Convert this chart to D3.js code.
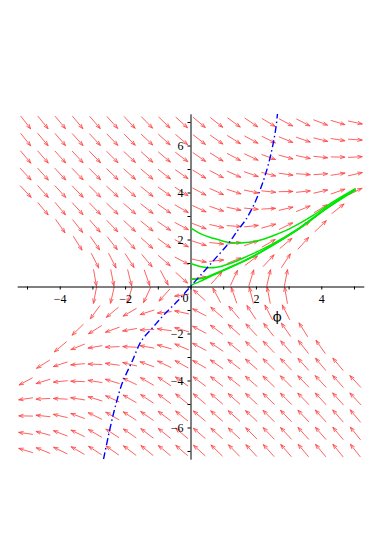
<!DOCTYPE html>
<html>
<head>
<meta charset="utf-8">
<script src="https://cdn.jsdelivr.net/npm/d3@7"></script>
<style>
  body { margin: 0; background: #fff; }
  svg { display: block; }
  .tick text { font-family: "Liberation Serif", "DejaVu Serif", serif; font-size: 12px; }
</style>
</head>
<body>
<svg id="chart"></svg>
<script>
// grid of arrow centres (phi across, phi' down the page)
let xGrid = [-5.04, -4.51, -3.98, -3.45, -2.92, -2.39, -1.86, -1.33, -0.80, -0.27,
             0.27, 0.80, 1.33, 1.86, 2.39, 2.92, 3.45, 3.98, 4.51, 5.04]
let yGrid = [6.98, 6.25, 5.51, 4.78, 4.04, 3.31, 2.57, 1.84, 1.10, 0.37,
             -0.37, -1.10, -1.84, -2.57, -3.31, -4.04, -4.78, -5.51, -6.25, -6.98]

// arrow direction on screen, degrees counter-clockwise; null = no arrow drawn
let arrowAngles = [
  [-52,-51,-50,-50,-49,-48,-47,-46,-44,-42,-40,-38,-36,-34,-31,-28,-27,-21,-17,-12],
  [-51,-50,-49,-48,-47,-46,-45,-43,-42,-40,-38,-35,-32,-29,-26,-22,-19,-14,-9,-4],
  [-50,-49,-48,-47,-46,-45,-43,-42,-40,-37,-35,-32,-28,-25,-20,-15,-12,-6,-1,3],
  [-47,-48,-47,-46,-45,-44,-42,-40,-38,-35,-32,-28,-24,-19,-14,-8,-4,4,9,13],
  [-47,-48,-47,-46,-45,-43,-41,-39,-36,-33,-28,-24,-18,-12,-6,1,6,13,19,26],
  [null,-50,-50,-48,-46,-44,-41,-38,-35,-30,-25,-19,-12,-5,3,13,22,31,38,null],
  [null,null,-55,-52,-49,-46,-43,-39,-34,-28,-21,-13,-4,6,16,26,35,44,null,null],
  [null,null,null,-58,-55,-52,-47,-42,-36,-28,-18,-6,7,19,30,40,48,null,null,null],
  [null,null,null,null,-63,-63,-57,-50,-41,-28,-12,6,22,37,47,57,null,null,null,null],
  [null,null,null,null,-80,-79,-76,-71,-62,-42,8,48,65,73,77,79,null,null,null,null],
  [null,null,null,null,-101,-103,-107,-115,-132,-172,138,118,109,104,101,100,null,null,null,null],
  [null,null,null,null,-126,-140,-150,-162,-174,168,152,139,130,123,117,117,null,null,null,null],
  [null,null,null,-136,-148,-160,-170,-178,172,164,152,144,138,133,128,125,122,null,null,null],
  [null,null,-140,-158,-170,-178,177,170,164,157,152,146,141,137,134,131,128,125,null,null],
  [null,-148,-162,-175,178,172,166,160,154,151,150,145,142,139,136,134,132,130,130,null],
  [-152,-163,-174,178,171,163,155,150,146,144,143,142,141,139,137,135,134,133,132,133],
  [-172,-177,177,171,163,156,150,146,143,141,140,139,138,137,136,135,134,133,132,133],
  [179,174,167,160,154,150,147,145,143,141,140,139,138,137,135,134,133,132,131,130],
  [172,165,159,154,150,147,145,143,141,140,139,138,137,135,134,133,132,131,130,129],
  [163,158,154,150,147,145,143,141,140,139,138,136,134,133,132,131,130,130,129,128]
]

// solution curves (green)
let solutionA = [[0,2.50],[0.35,2.22],[0.70,2.05],[1.0,1.93],[1.21,1.87],[1.62,1.86],[2.0,1.93],
                 [2.23,2.01],[2.6,2.2],[2.94,2.40],[3.35,2.7],[3.76,3.04],[4.37,3.61],[5.05,4.16]]
let solutionB = [[0,0.99],[0.29,0.85],[0.55,0.80],[0.8,0.82],[1.21,0.98],[1.72,1.28],[2.43,1.75],
                 [3.25,2.42],[4.17,3.36],[5.05,4.15]]
let solutionC = [[0,0.31],[0.15,0.31],[0.4,0.36],[0.7,0.52],[1.2,0.82],[1.72,1.15],[2.53,1.78],
                 [3.35,2.5],[4.17,3.33],[5.05,4.12]]
let solutionD = [[0,0.05],[0.3,0.22],[0.7,0.49],[1.2,0.8],[1.72,1.13],[2.53,1.76],[3.35,2.48],
                 [4.17,3.32],[5.05,4.11]]

// dash-dot curve (blue)
let blueCurve = [[-2.66,-7.35],[-2.45,-5.97],[-2.3,-5.11],[-2.09,-4.12],[-1.79,-3.2],[-1.5,-2.31],
                 [-1.15,-1.74],[-0.79,-1.17],[-0.38,-0.6],[0,0],[0.43,0.67],[0.79,1.24],[1.15,1.81],
                 [1.45,2.4],[1.69,2.84],[1.94,3.48],[2.15,4.19],[2.35,5.04],[2.5,5.89],[2.61,6.74],[2.66,7.35]]

let xTicks = [-5,-4,-3,-2,-1,0,1,2,3,4,5]
let xLabels = [-4,-2,2,4]
let yTicks = [-7,-6,-5,-4,-3,-2,-1,0,1,2,3,4,5,6,7]
let yLabels = [-6,-4,-2,2,4,6]

let width = 382
let height = 540

let svg = d3.select('#chart')
svg.attr('width', width).attr('height', height)

let xScale = d3.scaleLinear().domain([-5.3, 5.3]).range([17.2, 363.8])
let yScale = d3.scaleLinear().domain([-7.35, 7.35]).range([459.2, 113.8])

svg.append('clipPath').attr('id', 'plotClip')
   .append('rect')
   .attr('x', xScale(-5.3)).attr('y', yScale(7.35))
   .attr('width', xScale(5.3) - xScale(-5.3))
   .attr('height', yScale(-7.35) - yScale(7.35))

// direction field
let arrows = []
arrowAngles.forEach((row, j) => {
  row.forEach((a, i) => {
    if (a !== null) arrows.push({x: xGrid[i], y: yGrid[j], a: a})
  })
})

let arrowPath = (d) => {
  let r = d.a * Math.PI / 180
  let ux = Math.cos(r), uy = -Math.sin(r)
  let len = 13.5 + 3 * Math.abs(Math.sin(r))
  let cx = xScale(d.x), cy = yScale(d.y)
  let x0 = cx - ux * len / 2, y0 = cy - uy * len / 2
  let x1 = cx + ux * len / 2, y1 = cy + uy * len / 2
  let hl = 4.5, ha = 20 * Math.PI / 180
  let bx = -ux, by = -uy
  let b1x = x1 + hl * (bx * Math.cos(ha) - by * Math.sin(ha))
  let b1y = y1 + hl * (bx * Math.sin(ha) + by * Math.cos(ha))
  let b2x = x1 + hl * (bx * Math.cos(-ha) - by * Math.sin(-ha))
  let b2y = y1 + hl * (bx * Math.sin(-ha) + by * Math.cos(-ha))
  return 'M' + x0 + ',' + y0 + 'L' + x1 + ',' + y1 +
         'M' + b1x + ',' + b1y + 'L' + x1 + ',' + y1 + 'L' + b2x + ',' + b2y
}

svg.append('g')
   .selectAll('path')
   .data(arrows)
   .enter()
   .append('path')
   .attr('d', arrowPath)
   .attr('fill', 'none')
   .attr('stroke', '#ff4444')
   .attr('stroke-width', 0.85)
   .attr('stroke-linecap', 'round')

// axes
let xAxis = d3.axisBottom(xScale)
              .tickValues(xTicks)
              .tickSize(3)
              .tickSizeOuter(0)
              .tickPadding(5)
              .tickFormat((d) => xLabels.includes(d) ? d3.format('d')(d) : '')
let yAxis = d3.axisLeft(yScale)
              .tickValues(yTicks)
              .tickSize(3)
              .tickSizeOuter(0)
              .tickPadding(4)
              .tickFormat((d) => yLabels.includes(d) ? d3.format('d')(d) : '')

svg.append('g')
   .attr('transform', 'translate(0,' + yScale(0) + ')')
   .call(xAxis)
   .call((g) => g.selectAll('text').attr('fill', '#000'))

svg.append('g')
   .attr('transform', 'translate(' + xScale(0) + ',0)')
   .call(yAxis)
   .call((g) => g.selectAll('text').attr('fill', '#000'))

svg.append('text')
   .attr('x', xScale(0) - 5)
   .attr('y', yScale(0) + 15)
   .attr('text-anchor', 'middle')
   .attr('font-family', '"Liberation Serif", serif')
   .attr('font-size', 12)
   .text('0')

svg.append('text')
   .attr('x', xScale(2.65))
   .attr('y', yScale(0) + 34)
   .attr('text-anchor', 'middle')
   .attr('font-family', '"DejaVu Serif", "Liberation Serif", serif')
   .attr('font-size', 13)
   .text('ϕ')

// curves
let line = d3.line()
             .x((d) => xScale(d[0]))
             .y((d) => yScale(d[1]))
             .curve(d3.curveCatmullRom)

let curves = svg.append('g').attr('clip-path', 'url(#plotClip)')

;[solutionA, solutionB, solutionC, solutionD].forEach((s) => {
  curves.append('path')
        .attr('d', line(s))
        .attr('fill', 'none')
        .attr('stroke', '#00e600')
        .attr('stroke-width', 1.5)
})

curves.append('path')
      .attr('d', line(blueCurve))
      .attr('fill', 'none')
      .attr('stroke', '#0000ff')
      .attr('stroke-width', 1.4)
      .attr('stroke-dasharray', '7,3,1.5,3')
</script>
</body>
</html>
